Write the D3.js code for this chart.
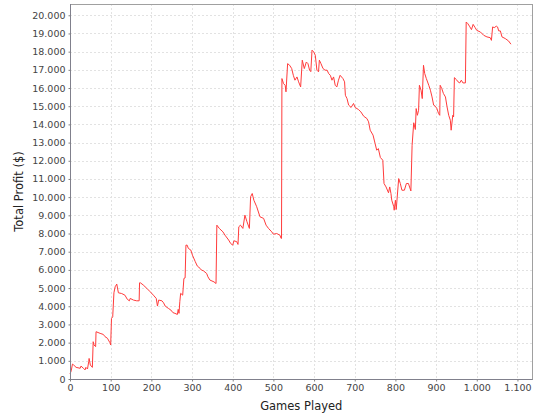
<!DOCTYPE html>
<html>
<head>
<meta charset="utf-8">
<script src="https://cdn.jsdelivr.net/npm/d3@7"></script>
<style>
  body { margin: 0; background: #fff; }
  .tick text { font-family: "DejaVu Sans", sans-serif; font-size: 9.5px; fill: #444; }
  .axis-label { font-family: "DejaVu Sans", sans-serif; font-size: 11.5px; fill: #222; }
</style>
</head>
<body>
<div id="chart"></div>
<script>
// games played vs running profit
var games = [0, 3, 6, 9, 15, 25, 27, 33, 37, 39, 43, 46, 47, 50, 55, 57, 59, 63, 64, 74,
  82, 86, 92, 98, 100, 102, 105, 108, 111, 115, 119, 127, 135, 141, 146, 148, 156, 164, 170, 171,
  173, 180, 189, 197, 205, 212, 215, 218, 226, 230, 234, 242, 248, 253, 258, 264, 266, 268, 270, 272,
  277, 280, 283, 285, 288, 291, 297, 301, 308, 313, 320, 323, 328, 336, 339, 344, 354, 359, 361, 367,
  376, 381, 390, 395, 400, 403, 410, 413, 415, 419, 425, 430, 435, 441, 444, 448, 452, 459, 467, 476,
  482, 488, 496, 500, 508, 516, 519, 520, 521, 525, 529, 531, 535, 540, 545, 549, 553, 558, 562, 567,
  571, 576, 581, 585, 589, 592, 595, 599, 603, 607, 611, 613, 617, 622, 627, 632, 636, 640, 644, 648,
  652, 656, 660, 664, 671, 675, 677, 681, 685, 691, 697, 701, 709, 715, 722, 730, 734, 738, 745, 750,
  754, 758, 763, 769, 772, 777, 783, 786, 789, 791, 796, 797, 800, 802, 808, 812, 816, 822, 827, 832,
  838, 841, 845, 849, 851, 854, 857, 859, 863, 866, 869, 872, 876, 882, 886, 890, 894, 898, 902, 906,
  909, 910, 914, 918, 923, 927, 931, 935, 937, 941, 943, 945, 950, 954, 958, 962, 966, 972, 974, 978,
  982, 987, 991, 996, 1000, 1009, 1017, 1025, 1033, 1036, 1039, 1043, 1048, 1051, 1054, 1058, 1062, 1070, 1078, 1084];

var profit = [275, 450, 820, 770, 640, 590, 710, 590, 500, 640, 550, 950, 1130, 770, 640, 2050, 1870, 1780, 2600, 2510,
  2450, 2330, 2240, 2000, 1870, 3330, 3420, 4740, 5070, 5220, 4740, 4700, 4610, 4380, 4300, 4430, 4340, 4300, 4300, 5290,
  5290, 5170, 4980, 4800, 4610, 4430, 4010, 4340, 4300, 4190, 4010, 3880, 3790, 3650, 3610, 3550, 3830, 3610, 4250, 4710,
  4610, 5530, 5560, 7360, 7360, 7180, 7090, 6810, 6450, 6210, 6080, 5990, 5950, 5800, 5620, 5440, 5340, 5250, 8460, 8280,
  8090, 7910, 7640, 7450, 7360, 7600, 7550, 7400, 8370, 8460, 8280, 9010, 8650, 8280, 10020, 10200, 9830, 9470, 8920, 8830,
  8460, 8280, 8090, 7960, 8000, 7910, 7730, 7730, 16520, 16240, 16150, 15790, 17340, 17250, 17070, 16700, 16430, 16610, 16340, 16060,
  17530, 17070, 17430, 17340, 16980, 16900, 18080, 17990, 17800, 16980, 16890, 17530, 17340, 17070, 16980, 16980, 16790, 16700, 16430, 16610,
  16150, 16060, 16430, 16700, 16520, 16340, 15600, 15420, 15060, 14930, 15150, 14930, 14820, 14690, 14450, 14320, 14140, 13680, 13410, 12950,
  12580, 12670, 12180, 12030, 10750, 10560, 10240, 10560, 10200, 9830, 9470, 9280, 9830, 9320, 11020, 10750, 10380, 10380, 10750, 10750,
  10340, 12850, 14090, 13720, 14870, 14500, 14780, 16150, 15880, 15420, 17250, 16800, 16520, 16150, 15880, 15510, 15060, 15000, 14870, 14600,
  14500, 16150, 15970, 15700, 15510, 14960, 14500, 14230, 13680, 14500, 14410, 16570, 16460, 16340, 16280, 16430, 16280, 16280, 19630, 19540,
  19400, 19210, 19500, 19320, 19170, 19080, 18900, 18810, 18770, 18620, 19360, 19320, 19400, 19360, 19140, 19140, 18810, 18720, 18590, 18410];

var xTicks = [0, 100, 200, 300, 400, 500, 600, 700, 800, 900, 1000, 1100];
var yTicks = d3.range(0, 20001, 1000);

var width = 540, height = 420;
var plot = { left: 70, top: 4, right: 532.5, bottom: 379 };

var svg = d3.select("#chart").append("svg")
  .attr("width", width)
  .attr("height", height);

svg.append("rect").attr("width", width).attr("height", height).attr("fill", "#fff");

var x = d3.scaleLinear().domain([0, 1137]).range([plot.left, plot.right]);
var y = d3.scaleLinear().domain([0, 20620]).range([plot.bottom, plot.top]);

// dot as thousands separator
var loc = d3.formatLocale({ decimal: ",", thousands: ".", grouping: [3], currency: ["", "$"] });
var fmt = loc.format(",d");

// gridlines
svg.append("g")
  .selectAll("line")
  .data(xTicks)
  .enter().append("line")
  .attr("x1", function(d) { return Math.round(x(d)) + 0.5; })
  .attr("x2", function(d) { return Math.round(x(d)) + 0.5; })
  .attr("y1", plot.top)
  .attr("y2", plot.bottom)
  .attr("stroke", "#e2e2e2")
  .attr("stroke-dasharray", "2,2");

svg.append("g")
  .selectAll("line")
  .data(yTicks)
  .enter().append("line")
  .attr("x1", plot.left)
  .attr("x2", plot.right)
  .attr("y1", function(d) { return Math.round(y(d)) + 0.5; })
  .attr("y2", function(d) { return Math.round(y(d)) + 0.5; })
  .attr("stroke", "#e2e2e2")
  .attr("stroke-dasharray", "2,2");

// outline
svg.append("rect")
  .attr("x", plot.left + 0.5)
  .attr("y", plot.top + 0.5)
  .attr("width", plot.right - plot.left - 0.5)
  .attr("height", plot.bottom - plot.top)
  .attr("fill", "none")
  .attr("stroke", "#a0a0a0");

// the line
var line = d3.line()
  .x(function(d, i) { return x(games[i]); })
  .y(function(d) { return y(d); });

svg.append("path")
  .datum(profit)
  .attr("d", line)
  .attr("fill", "none")
  .attr("stroke", "#ff3b3b")
  .attr("stroke-width", 1);

// axes
var xAxis = d3.axisBottom(x).tickValues(xTicks).tickFormat(fmt).tickSize(2).tickPadding(3);
var gx = svg.append("g")
  .attr("transform", "translate(0," + (plot.bottom + 0.5) + ")")
  .call(xAxis);

var yAxis = d3.axisLeft(y).tickValues(yTicks).tickFormat(fmt).tickSize(2).tickPadding(3);
var gy = svg.append("g")
  .attr("transform", "translate(" + (plot.left + 0.5) + ",0)")
  .call(yAxis);

gx.selectAll(".domain").attr("stroke", "#80808c").attr("d", "M" + plot.left + ",0H" + plot.right);
gy.selectAll(".domain").attr("stroke", "#80808c").attr("d", "M0," + plot.top + "V" + (plot.bottom + 0.5));
svg.selectAll(".tick line").attr("stroke", "#808080");
svg.selectAll(".tick text").attr("font-family", null).attr("font-size", null);

svg.append("text")
  .attr("class", "axis-label")
  .attr("x", (plot.left + plot.right) / 2)
  .attr("y", 410)
  .attr("text-anchor", "middle")
  .text("Games Played");

svg.append("text")
  .attr("class", "axis-label")
  .attr("transform", "translate(23," + ((plot.top + plot.bottom) / 2) + ") rotate(-90)")
  .attr("text-anchor", "middle")
  .text("Total Profit ($)");
</script>
</body>
</html>
